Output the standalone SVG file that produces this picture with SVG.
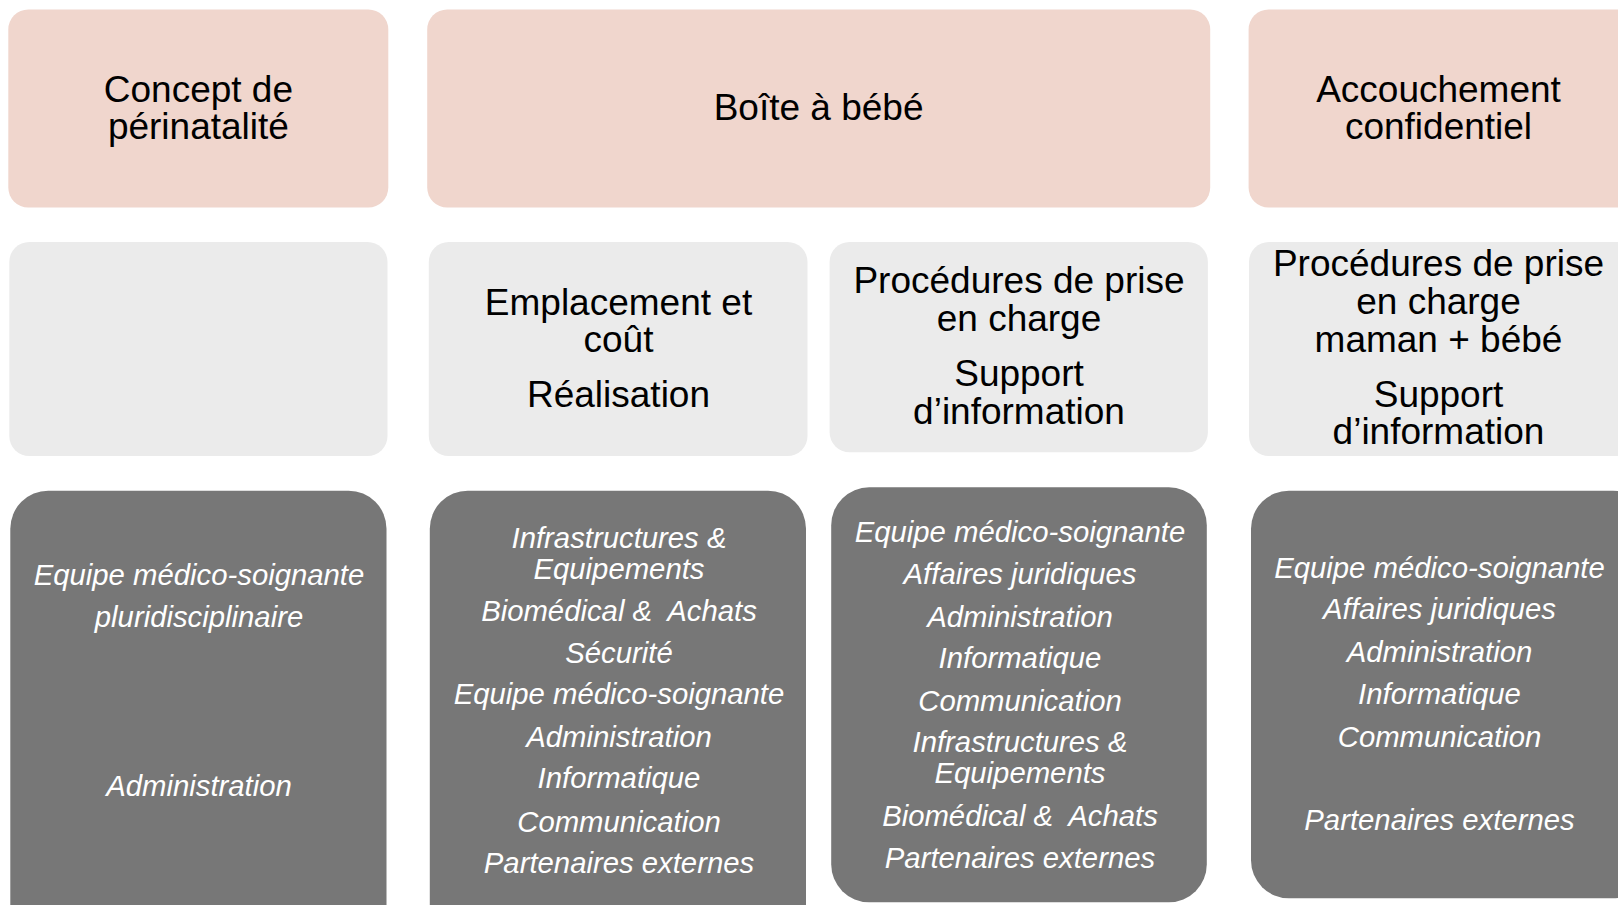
<svg xmlns="http://www.w3.org/2000/svg" width="1618" height="905" viewBox="0 0 1618 905">
<style>
.pink{fill:#F0D6CD}
.light{fill:#EBEBEB}
.dark{fill:#777777}
.t{font-family:"Liberation Sans",Arial,sans-serif;font-size:37px;fill:#000;text-anchor:middle}
.w{font-family:"Liberation Sans",Arial,sans-serif;font-size:29.3px;font-style:italic;fill:#FFFFFF;text-anchor:middle;white-space:pre}
</style>
<rect width="1618" height="905" fill="#FFFFFF"/>
<g id="connectors"/>
<g id="n-concept">
<rect class="pink" x="8.3" y="9.5" width="380" height="198" rx="20"/>
<text class="t"><tspan x="198.4" y="101.5">Concept de</tspan><tspan x="198.4" y="138.5">périnatalité</tspan></text>
</g>
<g id="n-boite">
<rect class="pink" x="427.2" y="9.5" width="783" height="198" rx="20"/>
<text class="t" x="818.6" y="120">Boîte à bébé</text>
</g>
<g id="n-accouchement">
<rect class="pink" x="1248.6" y="9.5" width="400" height="198" rx="20"/>
<text class="t"><tspan x="1438.5" y="101.5">Accouchement</tspan><tspan x="1438.5" y="138.5">confidentiel</tspan></text>
</g>
<g id="n-empty">
<rect class="light" x="9.3" y="242" width="378.2" height="214" rx="20"/>
</g>
<g id="n-emplacement">
<rect class="light" x="428.8" y="242" width="378.7" height="214" rx="20"/>
<text class="t"><tspan x="618.5" y="315">Emplacement et</tspan><tspan x="618.5" y="352.4">coût</tspan><tspan x="618.5" y="406.7">Réalisation</tspan></text>
</g>
<g id="n-procedures">
<rect class="light" x="829.6" y="242" width="378.3" height="210.3" rx="20"/>
<text class="t"><tspan x="1019" y="293.4">Procédures de prise</tspan><tspan x="1019" y="331.4">en charge</tspan><tspan x="1019" y="386.4">Support</tspan><tspan x="1019" y="424">d’information</tspan></text>
</g>
<g id="n-procedures-maman">
<rect class="light" x="1249" y="242" width="400" height="214" rx="20"/>
<text class="t"><tspan x="1438.5" y="275.7">Procédures de prise</tspan><tspan x="1438.5" y="314">en charge</tspan><tspan x="1438.5" y="352.4">maman + bébé</tspan><tspan x="1438.5" y="406.7">Support</tspan><tspan x="1438.5" y="444">d’information</tspan></text>
</g>
<g id="n-acteurs-concept">
<rect class="dark" x="10.3" y="490.7" width="376.2" height="460" rx="38"/>
<text class="w"><tspan x="199" y="584.8">Equipe médico-soignante</tspan><tspan x="199" y="626.5">pluridisciplinaire</tspan><tspan x="199" y="795.5">Administration</tspan></text>
</g>
<g id="n-acteurs-boite1">
<rect class="dark" x="429.8" y="490.7" width="376.2" height="460" rx="38"/>
<text class="w"><tspan x="619" y="548">Infrastructures &amp;</tspan><tspan x="619" y="579">Equipements</tspan><tspan x="619" y="620.8">Biomédical &amp;  Achats</tspan><tspan x="619" y="663">Sécurité</tspan><tspan x="619" y="703.8">Equipe médico-soignante</tspan><tspan x="619" y="746.8">Administration</tspan><tspan x="619" y="788.2">Informatique</tspan><tspan x="619" y="831.5">Communication</tspan><tspan x="619" y="873.2">Partenaires externes</tspan></text>
</g>
<g id="n-acteurs-boite2">
<rect class="dark" x="831.2" y="487.3" width="375.6" height="415" rx="38"/>
<text class="w"><tspan x="1020" y="541.5">Equipe médico-soignante</tspan><tspan x="1020" y="584.2">Affaires juridiques</tspan><tspan x="1020" y="626.5">Administration</tspan><tspan x="1020" y="667.5">Informatique</tspan><tspan x="1020" y="710.8">Communication</tspan><tspan x="1020" y="752.2">Infrastructures &amp;</tspan><tspan x="1020" y="783.2">Equipements</tspan><tspan x="1020" y="825.5">Biomédical &amp;  Achats</tspan><tspan x="1020" y="867.5">Partenaires externes</tspan></text>
</g>
<g id="n-acteurs-accouchement">
<rect class="dark" x="1251" y="490.7" width="400" height="407.6" rx="38"/>
<text class="w"><tspan x="1439.5" y="577.5">Equipe médico-soignante</tspan><tspan x="1439.5" y="618.8">Affaires juridiques</tspan><tspan x="1439.5" y="662.2">Administration</tspan><tspan x="1439.5" y="703.8">Informatique</tspan><tspan x="1439.5" y="746.5">Communication</tspan><tspan x="1439.5" y="829.8">Partenaires externes</tspan></text>
</g>
</svg>
